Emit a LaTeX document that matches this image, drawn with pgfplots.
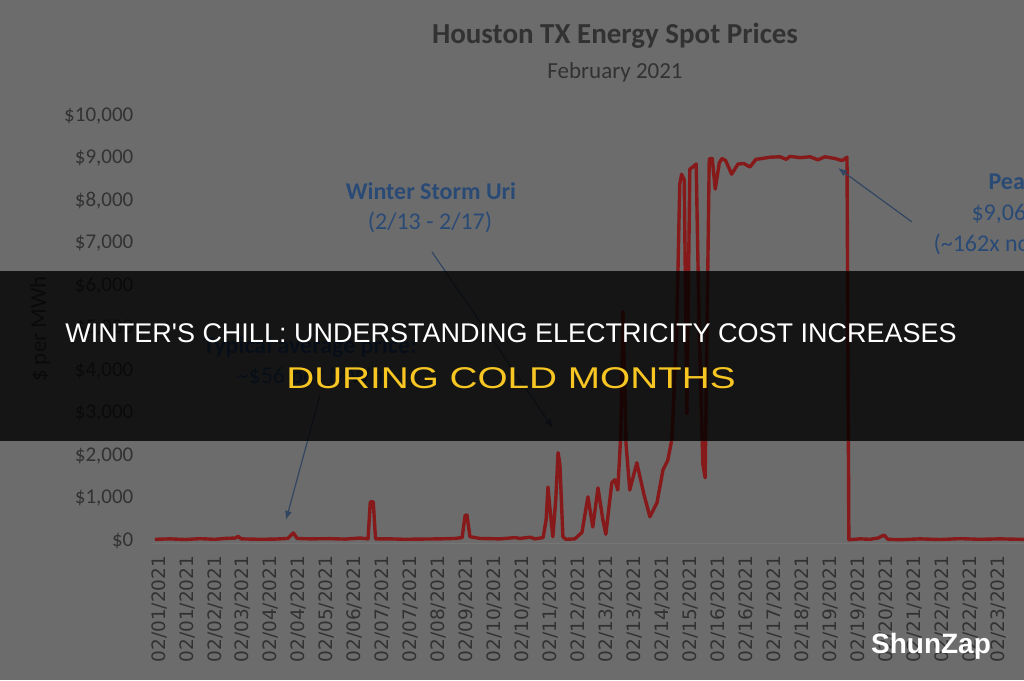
\documentclass[border=0pt]{standalone}
\usepackage{pgfplots}
\pgfplotsset{compat=1.18}
\usetikzlibrary{arrows.meta}
\usepackage{fontspec}
\setmainfont{Carlito}
\newfontfamily\lib{Liberation Sans}
\newfontfamily\dejavu{DejaVu Sans}
\definecolor{bg}{RGB}{108,108,108}
\definecolor{tickc}{RGB}{50,50,50}
\definecolor{redl}{RGB}{134,26,26}
\definecolor{blue1}{RGB}{42,74,118}
\definecolor{arrowc}{RGB}{50,70,98}
\definecolor{yel}{RGB}{247,198,35}
\definecolor{axl}{RGB}{118,118,118}
\begin{document}
\begin{tikzpicture}[x=1pt,y=1pt]
\useasboundingbox (0,0) rectangle (1024,680);
\clip (0,0) rectangle (1024,680);
\fill[bg] (0,0) rectangle (1024,680);
\begin{axis}[
  at={(151.53pt,136.45pt)}, anchor=south west,
  x=37.33pt, y=0.0425pt,
  xmin=-0.2, xmax=24, ymin=-60, ymax=10000,
  scaled y ticks=false, scaled x ticks=false,
  axis x line*=bottom, axis y line*=left,
  x axis line style={draw=axl, line width=1pt, -},
  y axis line style={draw=none},
  major tick length=0pt,
  xtick={0,0.75,1.5,2.25,3,3.75,4.5,5.25,6,6.75,7.5,8.25,9,9.75,10.5,11.25,12,12.75,13.5,14.25,15,15.75,16.5,17.25,18,18.75,19.5,20.25,21,21.75,22.5},
  xticklabels={02/01/2021,02/01/2021,02/02/2021,02/03/2021,02/04/2021,02/04/2021,02/05/2021,02/06/2021,02/07/2021,02/07/2021,02/08/2021,02/09/2021,02/10/2021,02/10/2021,02/11/2021,02/12/2021,02/13/2021,02/13/2021,02/14/2021,02/15/2021,02/16/2021,02/16/2021,02/17/2021,02/18/2021,02/19/2021,02/19/2021,02/20/2021,02/21/2021,02/22/2021,02/22/2021,02/23/2021},
  ytick={0,1000,2000,3000,4000,5000,6000,7000,8000,9000,10000},
  yticklabels={{\$0},{\$1,000},{\$2,000},{\$3,000},{\$4,000},{\$5,000},{\$6,000},{\$7,000},{\$8,000},{\$9,000},{\$10,000}},
  xticklabel style={rotate=90, anchor=east, font=\dejavu\fontsize{18.5}{18.5}\selectfont, text=tickc, inner sep=0pt},
  xticklabel shift=12pt,
  yticklabel style={anchor=east, font=\fontsize{21}{21}\selectfont, text=tickc, inner sep=0pt},
  yticklabel shift=18pt,
  clip=false,
]
\addplot[color=redl, line width=3.4pt, line join=round] coordinates {
(-0.11,40) (0.29,50) (0.70,35) (1.10,55) (1.50,40) (1.77,60) (2.05,70) (2.12,110) (2.20,50) (2.71,40) (3.11,45) (3.45,60) (3.60,190) (3.70,60) (4.05,50) (4.58,55) (4.98,45) (5.38,70) (5.60,50) (5.66,920) (5.74,920) (5.80,50) (6.19,50) (6.59,40) (6.99,45) (7.53,50) (7.93,60) (8.12,80) (8.20,600) (8.25,610) (8.33,100) (8.60,60) (9.13,50) (9.54,80) (9.67,60) (9.94,90) (10.07,50) (10.29,80) (10.37,500) (10.42,1270) (10.48,700) (10.55,100) (10.63,1000) (10.69,2080) (10.74,1800) (10.82,100) (10.90,40) (11.14,50) (11.33,200) (11.49,1040) (11.62,330) (11.76,1250) (11.89,500) (11.97,160) (12.13,1370) (12.21,1440) (12.29,1200) (12.37,2500) (12.43,5400) (12.51,2300) (12.61,1200) (12.80,1840) (12.99,1100) (13.15,570) (13.34,900) (13.50,1670) (13.63,1900) (13.74,2400) (13.87,5000) (13.95,8400) (14.00,8630) (14.07,8500) (14.14,3000) (14.22,8750) (14.30,8800) (14.39,8870) (14.47,5000) (14.57,1800) (14.63,1490) (14.68,5000) (14.74,8990) (14.82,9000) (14.90,8280) (15.01,8900) (15.08,9000) (15.18,8950) (15.34,8630) (15.51,8870) (15.67,8880) (15.83,8800) (15.99,8980) (16.15,9000) (16.37,9030) (16.64,9040) (16.80,8980) (16.90,9050) (17.17,9020) (17.44,9040) (17.65,8970) (17.84,9040) (18.11,9000) (18.30,8950) (18.43,9030) (18.48,30) (18.78,50) (19.05,40) (19.26,70) (19.42,140) (19.53,40) (19.85,30) (20.39,50) (20.92,35) (21.46,55) (21.99,40) (22.53,50) (23.33,35)
};
\end{axis}
% titles
\node[font=\bfseries\fontsize{29}{29}\selectfont, text=tickc] at (615,644) {Houston TX Energy Spot Prices};
\node[font=\fontsize{23}{23}\selectfont, text=tickc] at (615,608) {February 2021};
\node[rotate=90, font=\fontsize{23}{23}\selectfont, text=tickc] at (40,351) {\$ per MWh};
% annotations
\node[font=\bfseries\fontsize{24}{24}\selectfont, text=blue1] at (431,489) {Winter Storm Uri};
\node[font=\fontsize{24}{24}\selectfont, text=blue1] at (430,458) {(2/13 - 2/17)};
\node[font=\bfseries\fontsize{24}{24}\selectfont, text=blue1] at (310,333) {Typical average price:};
\node[font=\fontsize{24}{24}\selectfont, text=blue1] at (310,303) {\textasciitilde\$56 per MWh};
\node[font=\bfseries\fontsize{24}{24}\selectfont, text=blue1, anchor=west] at (985,497) {Peak price:};
\node[font=\fontsize{24}{24}\selectfont, text=blue1, anchor=west] at (968,466) {\$9,063 per MWh};
\node[font=\fontsize{24}{24}\selectfont, text=blue1, anchor=west] at (930,435) {(\textasciitilde162x normal price)};
\draw[arrowc, line width=1.2pt, -{Latex[length=9pt,width=7pt]}] (432,428) -- (553,252);
\draw[arrowc, line width=1.2pt, -{Latex[length=9pt,width=7pt]}] (320,285) -- (286,160);
\draw[arrowc, line width=1.2pt, -{Latex[length=9pt,width=7pt]}] (912,458) -- (838,512);
% banner
\fill[black, opacity=0.8] (0,239) rectangle (1024,409);
\node[font=\lib\fontsize{27}{27}\selectfont, text=white] at (511,347) {WINTER'S CHILL: UNDERSTANDING ELECTRICITY COST INCREASES};
\node[font=\lib\fontsize{30}{30}\selectfont, text=yel] at (511,302) {\scalebox{1.29}[1]{DURING COLD MONTHS}};
\node[font=\lib\bfseries\fontsize{28}{28}\selectfont, text=white, anchor=base] at (931,27) {ShunZap};
\end{tikzpicture}
\end{document}
